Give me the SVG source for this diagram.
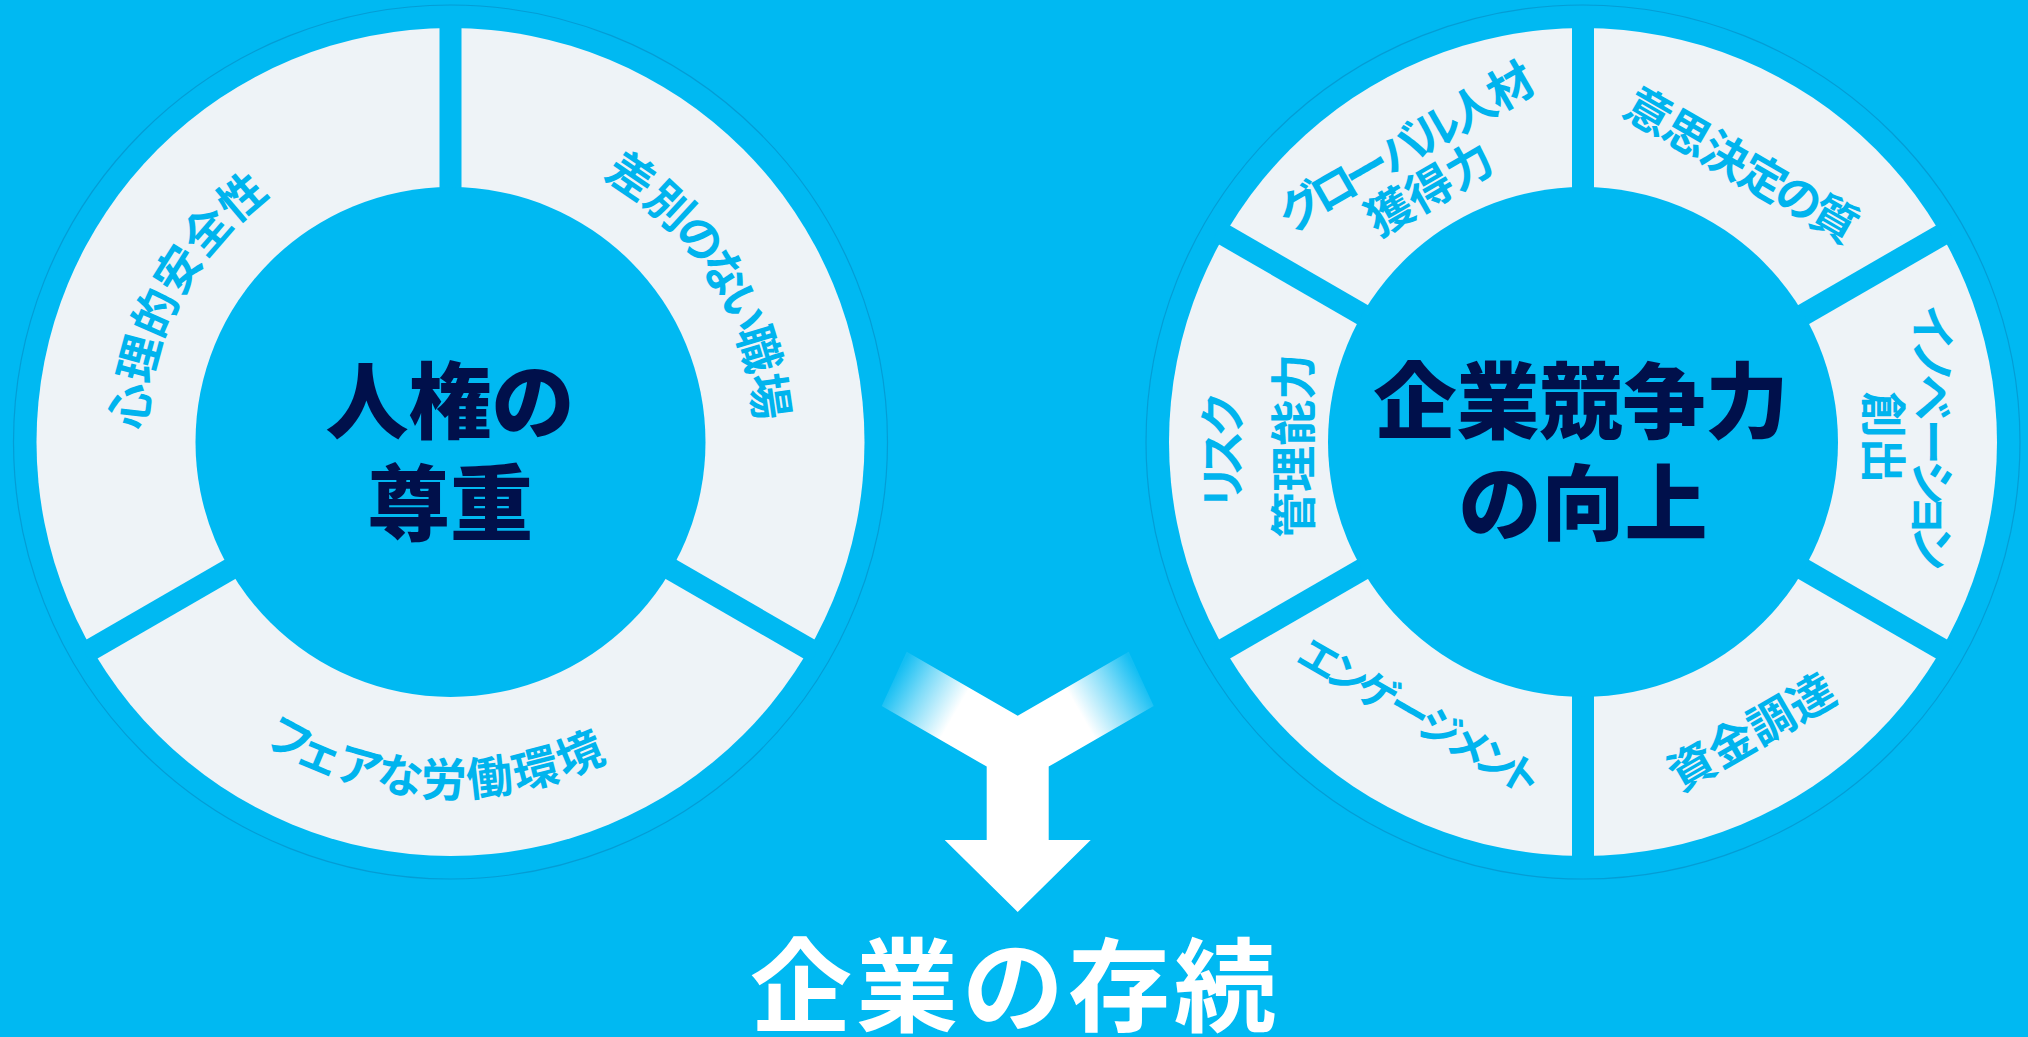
<svg xmlns="http://www.w3.org/2000/svg" width="2028" height="1037" viewBox="0 0 2028 1037">
  <defs>
    <style>
      .bg { fill: #00B9F2; }
      .halo { fill: #00B9F2; stroke: #0592C9; stroke-width: 1.2; stroke-opacity: 0.7; }
      .ring { fill: #EEF3F7; }
      .sep { stroke: #00B9F2; stroke-width: 22; stroke-linecap: butt; }
      .hub { fill: #00B9F2; }
      .lbl { font-family: "Noto Sans CJK JP", "Noto Sans", sans-serif; font-size: 46px; font-weight: 700; fill: #00B4EE; }
      .core { font-family: "Noto Sans CJK JP", "Noto Sans", sans-serif; font-size: 83px; font-weight: 900; fill: #00104B; text-anchor: middle; }
      .goal { font-family: "Noto Sans CJK JP", "Noto Sans", sans-serif; font-size: 102px; font-weight: 700; fill: #FFFFFF; text-anchor: middle; letter-spacing: 4px; }
    </style>
    <path id="arcL1" d="M 223.5 646.4 A 305.5 305.5 0 0 1 493.0 139.5"/>
    <path id="arcL2" d="M 387.0 143.2 A 305.5 305.5 0 0 1 691.2 630.1"/>
    <path id="arcL3" d="M 111.5 545.7 A 354.5 354.5 0 0 0 776.8 580.5"/>
    <linearGradient id="fadeL" gradientUnits="userSpaceOnUse" x1="894.2" y1="678.85" x2="980.8" y2="728.85">
      <stop offset="0" stop-color="#00B9F2" stop-opacity="0.92"/>
      <stop offset="0.3" stop-color="#00B9F2" stop-opacity="0.5"/>
      <stop offset="0.7" stop-color="#00B9F2" stop-opacity="0"/>
    </linearGradient>
    <linearGradient id="fadeR" gradientUnits="userSpaceOnUse" x1="1141.2" y1="678.85" x2="1054.6" y2="728.85">
      <stop offset="0" stop-color="#00B9F2" stop-opacity="0.92"/>
      <stop offset="0.3" stop-color="#00B9F2" stop-opacity="0.5"/>
      <stop offset="0.7" stop-color="#00B9F2" stop-opacity="0"/>
    </linearGradient>
  </defs>

  <rect class="bg" x="0" y="0" width="2028" height="1037"/>

  <!-- Left circle: 人権の尊重 -->
  <g id="node-jinken">
    <circle class="halo" cx="450.5" cy="442" r="437"/>
    <circle class="ring" cx="450.5" cy="442" r="414"/>
    <line class="sep" x1="450.5" y1="442" x2="450.5" y2="20"/>
    <line class="sep" x1="450.5" y1="442" x2="815.9" y2="653"/>
    <line class="sep" x1="450.5" y1="442" x2="85.1" y2="653"/>
    <circle class="hub" cx="450.5" cy="442" r="255"/>
    <g id="seg-shinri">
      <text class="lbl"><textPath href="#arcL1" startOffset="50%" text-anchor="middle">心理的安全性</textPath></text>
    </g>
    <g id="seg-sabetsu">
      <text class="lbl"><textPath href="#arcL2" startOffset="50%" text-anchor="middle"><tspan dx="0 0 -3.2 -6.4 -7.8 -4.6 0">差別のない職場</tspan></textPath></text>
    </g>
    <g id="seg-fair">
      <text class="lbl"><textPath href="#arcL3" startOffset="50%" text-anchor="middle"><tspan dx="0 -10 -3 -2 0 2 3 3">フェアな労働環境</tspan></textPath></text>
    </g>
    <text class="core" x="450" y="432">人権の</text>
    <text class="core" x="450" y="534">尊重</text>
  </g>

  <!-- Right circle: 企業競争力の向上 -->
  <g id="node-kyousou">
    <circle class="halo" cx="1583" cy="442" r="437"/>
    <circle class="ring" cx="1583" cy="442" r="414"/>
    <line class="sep" x1="1583" y1="442" x2="1583" y2="20"/>
    <line class="sep" x1="1583" y1="442" x2="1583" y2="864"/>
    <line class="sep" x1="1583" y1="442" x2="1948.4" y2="231"/>
    <line class="sep" x1="1583" y1="442" x2="1948.4" y2="653"/>
    <line class="sep" x1="1583" y1="442" x2="1217.6" y2="231"/>
    <line class="sep" x1="1583" y1="442" x2="1217.6" y2="653"/>
    <circle class="hub" cx="1583" cy="442" r="255"/>
    <g id="seg-global">
      <text class="lbl" transform="translate(1414.3,161) rotate(-30)" x="-143.9 -106.3 -68.6 -27.4 12.4 53.6 97.9" y="0">グローバル人材</text>
      <text class="lbl" text-anchor="middle" transform="translate(1437.8,203.2) rotate(-30)">獲得力</text>
    </g>
    <g id="seg-ishi">
      <text class="lbl" transform="translate(1733.3,179.7) rotate(30)" x="-130.4 -86.2 -42.0 2.2 43.3 84.4" y="0">意思決定の質</text>
    </g>
    <g id="seg-innovation">
      <text class="lbl" transform="translate(1915.5,437.8) rotate(90)" x="-133.3 -99.1 -63.3 -19.1 22.3 54.3 87.3" y="0">イノベーション</text>
      <text class="lbl" text-anchor="middle" transform="translate(1866.5,437.5) rotate(90)">創出</text>
    </g>
    <g id="seg-shikin">
      <text class="lbl" text-anchor="middle" transform="translate(1760,746.5) rotate(-30)">資金調達</text>
    </g>
    <g id="seg-engagement">
      <text class="lbl" style="font-size:41px" transform="translate(1412.7,729.7) rotate(30)" x="-137.1 -104.1 -69.9 -33.0 2.8 36.2 67.9 96.1" y="0">エンゲージメント</text>
    </g>
    <g id="seg-risk">
      <text class="lbl" transform="translate(1239.2,450.4) rotate(-90)" x="-59.5 -25.8 13.5" y="0">リスク</text>
      <text class="lbl" text-anchor="middle" transform="translate(1310,445.8) rotate(-90)">管理能力</text>
    </g>
    <text class="core" x="1581" y="432">企業競争力</text>
    <text class="core" x="1583" y="534">の向上</text>
  </g>

  <!-- Connectors: merging arrow -->
  <g id="connectors">
    <polygon fill="#FFFFFF" points="906.7,651.7 1017.7,715.8 1128.7,651.7 1153.7,706 1048.7,766.6 1048.7,840 1090.7,840 1017.7,912 944.7,840 986.7,840 986.7,766.6 881.7,706"/>
    <polygon fill="url(#fadeL)" points="905.8,646.6 877.4,708.1 966.6,759.6 995.0,698.1"/>
    <polygon fill="url(#fadeR)" points="1129.6,646.6 1158.0,708.1 1068.8,759.6 1040.4,698.1"/>
  </g>

  <!-- Result -->
  <g id="node-sonzoku">
    <text class="goal" x="1015" y="1024">企業の存続</text>
  </g>
</svg>
